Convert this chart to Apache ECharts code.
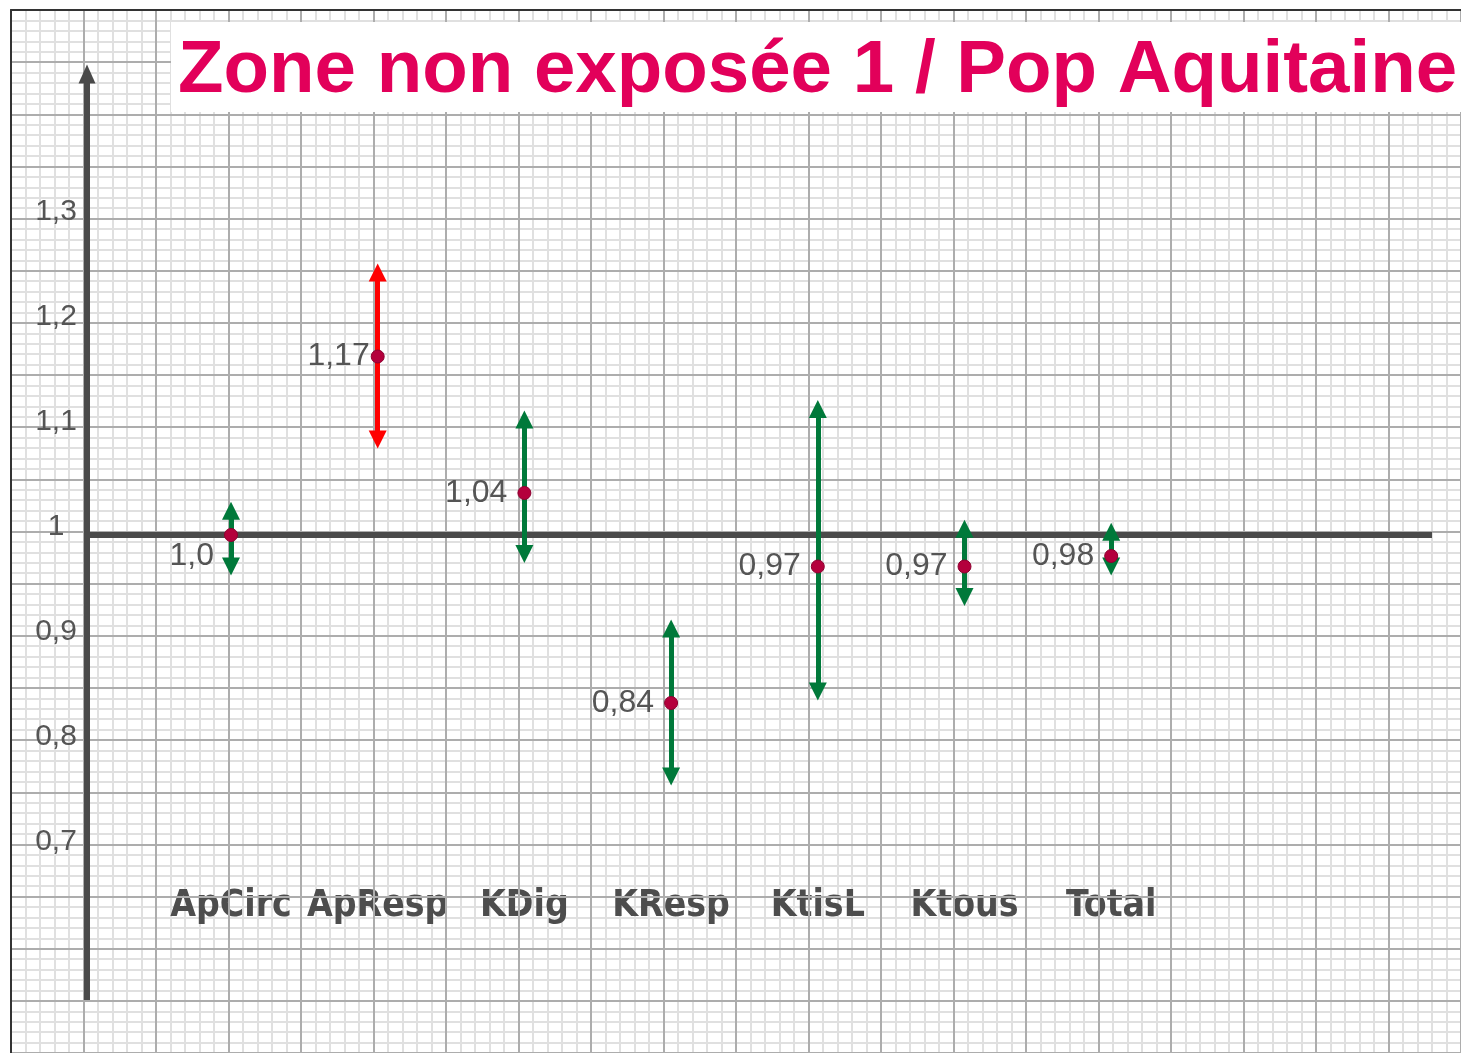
<!DOCTYPE html>
<html>
<head>
<meta charset="utf-8">
<script src="https://cdn.jsdelivr.net/npm/echarts@6/dist/echarts.min.js"></script>
<style>
    html, body { margin: 0; background: #fff; }
    #chart { width: 1461px; height: 1053px; }
</style>
</head>
<body>
<div id="chart"></div>
<script>
const categories = ['ApCirc', 'ApResp', 'KDig', 'KResp', 'KtisL', 'Ktous', 'Total'];
const estimates = [1.0, 1.17, 1.04, 0.84, 0.97, 0.97, 0.98];
const pointLabels = ['1,0', '1,17', '1,04', '0,84', '0,97', '0,97', '0,98'];
const lowerBounds = [0.970, 1.091, 0.982, 0.770, 0.851, 0.941, 0.970];
const upperBounds = [1.023, 1.250, 1.110, 0.911, 1.120, 1.006, 1.003];
const significant = [false, true, false, false, false, false, false];
const yTicks = [0.7, 0.8, 0.9, 1, 1.1, 1.2, 1.3];
const yTickLabels = ['0,7', '0,8', '0,9', '1', '1,1', '1,2', '1,3'];
const titleText = 'Zone non exposée 1 / Pop Aquitaine';

const GREEN = '#00793a';
const RED = '#ff0000';
const DOT = '#b4003c';
const AXIS = '#4a4a4a';
const TEXT = '#555555';

// graph paper: one grid for minor lines, one on top for major lines
const paperRect = { left: 11, top: 10, right: -17, bottom: -7 };

function paperAxes(gridIndex, xStep, yStep, color, z, border) {
    return {
        x: {
            type: 'value', gridIndex, min: 0, max: 20, interval: xStep, position: 'top', z,
            axisLine: { show: border, onZero: false, lineStyle: { color: '#333', width: 2 } },
            axisTick: { show: false }, axisLabel: { show: false },
            splitLine: { show: true, lineStyle: { color, width: 2 } }
        },
        y: {
            type: 'value', gridIndex, min: 0.5, max: 1.5, interval: yStep, z,
            axisLine: { show: border, onZero: false, lineStyle: { color: '#333', width: 2 } },
            axisTick: { show: false }, axisLabel: { show: false },
            splitLine: { show: true, lineStyle: { color, width: 2 } }
        }
    };
}

const minor = paperAxes(0, 0.2, 0.01, '#e0e0e0', 0, false);
const major = paperAxes(1, 1, 0.05, '#adadad', 1, true);

const errorBars = categories.map((name, i) => ({
    name,
    coords: [[i, lowerBounds[i]], [i, upperBounds[i]]],
    lineStyle: { color: significant[i] ? RED : GREEN }
}));

const points = categories.map((name, i) => {
    const item = { name, value: [i, estimates[i]] };
    if (i === 0) {
        item.label = { distance: 10, offset: [0, 21] };
    } else if (i === 1) {
        item.label = { distance: 1 };
    }
    return item;
});

const chart = echarts.init(document.getElementById('chart'));
chart.setOption({
    animation: false,
    backgroundColor: '#fff',
    title: {
        text: titleText,
        left: 171,
        top: 22,
        padding: [8, 60, 0, 7],
        backgroundColor: '#fff',
        textStyle: {
            fontFamily: 'Liberation Sans',
            fontSize: 74.5,
            fontWeight: 'bold',
            color: '#e2005a',
            lineHeight: 82
        }
    },
    grid: [
        Object.assign({}, paperRect),
        Object.assign({}, paperRect),
        { left: 87, right: 29, top: 74, bottom: 53 }
    ],
    xAxis: [
        minor.x,
        major.x,
        {
            type: 'value', gridIndex: 2,
            min: -144 / 146.7, max: (1432 - 231) / 146.7,
            axisLine: { show: false, onZero: false }, axisTick: { show: false }, splitLine: { show: false },
            axisLabel: {
                customValues: categories.map((c, i) => i),
                formatter: v => categories[Math.round(v)] || '',
                inside: true,
                margin: 94,
                verticalAlign: 'middle',
                fontFamily: '"DejaVu Sans"',
                fontWeight: 'bold condensed',
                fontSize: 37,
                color: '#4d4d4d'
            }
        }
    ],
    yAxis: [
        minor.y,
        major.y,
        {
            type: 'value', gridIndex: 2,
            min: 1 - (1000 - 535) / 1050, max: 1 + (535 - 74) / 1050,
            z: 3,
            axisLine: {
                show: true,
                onZero: false,
                symbol: ['none', 'triangle'],
                symbolSize: [17, 19],
                lineStyle: { color: AXIS, width: 6, cap: 'butt' }
            },
            axisTick: { show: false },
            splitLine: { show: false },
            axisLabel: {
                customValues: yTicks,
                formatter: v => yTickLabels[yTicks.findIndex(t => Math.abs(t - v) < 1e-6)] || '',
                margin: 31,
                align: 'center',
                verticalAlign: 'bottom',
                lineHeight: 16,
                fontFamily: 'Liberation Sans',
                fontSize: 30,
                color: TEXT
            }
        }
    ],
    series: [
        {
            type: 'lines',
            coordinateSystem: 'cartesian2d',
            xAxisIndex: 2,
            yAxisIndex: 2,
            z: 4,
            symbol: ['triangle', 'triangle'],
            symbolSize: 18,
            lineStyle: { width: 5, opacity: 1 },
            data: errorBars,
            markLine: {
                silent: true,
                symbol: ['none', 'none'],
                label: { show: false },
                lineStyle: { color: AXIS, width: 6, type: 'solid' },
                data: [{ yAxis: 1 }],
                z: 3
            }
        },
        {
            type: 'scatter',
            xAxisIndex: 2,
            yAxisIndex: 2,
            z: 6,
            symbolSize: 13,
            itemStyle: { color: DOT, borderColor: '#8e0030', borderWidth: 1, opacity: 1 },
            label: {
                show: true,
                position: 'left',
                distance: 10,
                formatter: p => pointLabels[p.dataIndex],
                fontFamily: 'Liberation Sans',
                fontSize: 32,
                color: TEXT
            },
            data: points
        }
    ]
});
</script>
</body>
</html>
